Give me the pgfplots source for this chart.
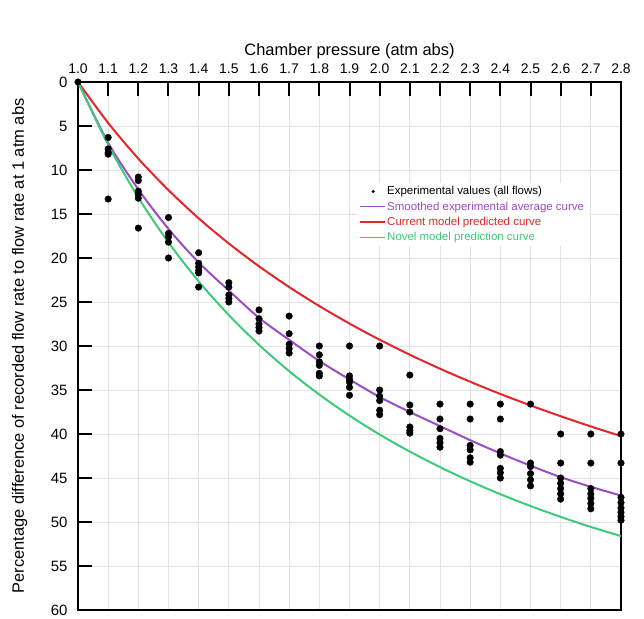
\documentclass[border=0pt]{standalone}
\usepackage{fontspec}
\setmainfont{Liberation Sans}
\usepackage{pgfplots}
\pgfplotsset{compat=1.18}
\definecolor{avgpurple}{HTML}{9A4DC4}
\definecolor{current}{HTML}{E3262B}
\definecolor{novel}{HTML}{3DCB7A}
\definecolor{gridgray}{HTML}{E2E2E2}

% experimental values, all flows
\pgfplotstableread{
p d
1.0 0.0
1.1 6.3
1.1 7.6
1.1 8.0
1.1 8.2
1.1 13.3
1.2 10.8
1.2 11.2
1.2 12.4
1.2 12.8
1.2 13.2
1.2 16.6
1.3 15.4
1.3 17.2
1.3 17.6
1.3 18.2
1.3 20.0
1.4 19.4
1.4 20.6
1.4 21.0
1.4 21.4
1.4 21.7
1.4 23.3
1.5 22.8
1.5 23.3
1.5 24.2
1.5 24.6
1.5 25.0
1.6 25.9
1.6 26.9
1.6 27.5
1.6 27.9
1.6 28.3
1.7 26.6
1.7 28.6
1.7 29.8
1.7 30.3
1.7 30.8
1.8 30.0
1.8 31.0
1.8 31.8
1.8 32.2
1.8 33.1
1.8 33.4
1.9 30.0
1.9 33.4
1.9 33.8
1.9 34.1
1.9 34.7
1.9 35.6
2.0 30.0
2.0 35.0
2.0 35.7
2.0 36.2
2.0 37.3
2.0 37.8
2.1 33.3
2.1 36.7
2.1 37.5
2.1 39.2
2.1 39.6
2.1 39.9
2.2 36.6
2.2 38.3
2.2 39.4
2.2 40.5
2.2 41.0
2.2 41.5
2.3 36.6
2.3 38.3
2.3 41.3
2.3 41.8
2.3 42.7
2.3 43.2
2.4 36.6
2.4 38.3
2.4 42.0
2.4 42.4
2.4 43.9
2.4 44.4
2.4 45.0
2.5 36.6
2.5 43.3
2.5 43.7
2.5 44.5
2.5 45.2
2.5 45.9
2.6 40.0
2.6 43.3
2.6 45.0
2.6 45.6
2.6 46.2
2.6 46.8
2.6 47.4
2.7 40.0
2.7 43.3
2.7 46.2
2.7 46.8
2.7 47.3
2.7 47.9
2.7 48.5
2.8 40.0
2.8 43.3
2.8 47.2
2.8 47.8
2.8 48.4
2.8 48.9
2.8 49.4
2.8 49.8
}\expdata

\begin{document}
\begin{tikzpicture}
\path[use as bounding box] (-78bp,-9bp) rectangle (566bp,610bp);
\begin{axis}[
  at={(0,0)}, anchor=south west,
  scale only axis, width=543bp, height=528bp,
  xmin=1, xmax=2.8, ymin=0, ymax=60, y dir=reverse,
  xtick={1.0,1.1,1.2,1.3,1.4,1.5,1.6,1.7,1.8,1.9,2.0,2.1,2.2,2.3,2.4,2.5,2.6,2.7,2.8},
  ytick={0,5,...,60},
  xtick pos=right, xticklabel pos=right, ytick pos=left, tick align=inside,
  major tick length=14bp,
  grid=major, grid style={gridgray, line width=1bp},
  axis line style={line width=2bp},
  tick style={line width=2bp, black},
  xticklabel style={font=\fontsize{14}{16}\selectfont, yshift=5bp,
    /pgf/number format/.cd, fixed, fixed zerofill, precision=1},
  yticklabel style={font=\fontsize{15}{17}\selectfont, xshift=-7bp},
  /pgf/number format/assume math mode=true,
  label style={font=\fontsize{16.5}{19}\selectfont},
  xlabel={Chamber pressure (atm abs)},
  xlabel style={at={(axis description cs:0.5,1)}, anchor=base, yshift=27bp},
  ylabel={Percentage difference of recorded flow rate to flow rate at 1 atm abs},
  ylabel style={at={(axis description cs:0,0.5)}, anchor=base, yshift=54bp},
  clip=false,
  legend style={at={(0.513,0.81)}, anchor=north west, draw=none, fill=white,
    font=\fontsize{11.5}{14}\selectfont, row sep=1.5bp},
  legend cell align=left,
  legend image code/.code={\draw[line width=1.4bp] (0cm,0cm) -- (0.85cm,0cm);},
]
\addplot[only marks, mark=*, mark size=3.3bp, black,
  legend image code/.code={\fill[black] (0.45cm,0cm) circle (1.3bp);}]
  table[x=p, y=d] {\expdata};
\addlegendentry{Experimental values (all flows)}
\addplot[avgpurple, line width=2bp, smooth] coordinates {
  (1.0,0) (1.1,6.9) (1.2,12.2) (1.3,16.7) (1.4,20.5) (1.5,23.7) (1.6,26.8)
  (1.7,29.3) (1.8,31.7) (1.9,33.8) (2.0,35.8) (2.1,37.5) (2.2,39.1) (2.3,40.7)
  (2.4,42.2) (2.5,43.6) (2.6,44.9) (2.7,46.0) (2.8,47.0)};
\addlegendentry{\textcolor{avgpurple}{Smoothed experimental average curve}}
\addplot[current, line width=2bp, smooth] coordinates {
  (1.0,0) (1.1,4.65) (1.2,8.71) (1.3,12.29) (1.4,15.49) (1.5,18.35) (1.6,20.94)
  (1.7,23.30) (1.8,25.46) (1.9,27.45) (2.0,29.29) (2.1,30.99) (2.2,32.58) (2.3,34.06)
  (2.4,35.45) (2.5,36.75) (2.6,37.98) (2.7,39.14) (2.8,40.24)};
\addlegendentry{\textcolor{current}{Current model predicted curve}}
\addplot[novel, line width=2bp, smooth] coordinates {
  (1.0,0) (1.1,7.13) (1.2,13.13) (1.3,18.24) (1.4,22.65) (1.5,26.49) (1.6,29.87)
  (1.7,32.86) (1.8,35.52) (1.9,37.91) (2.0,40.06) (2.1,42.00) (2.2,43.76) (2.3,45.37)
  (2.4,46.84) (2.5,48.18) (2.6,49.42) (2.7,50.56) (2.8,51.60)};
\addlegendentry{\textcolor{novel}{Novel model prediction curve}}
\end{axis}
\end{tikzpicture}
\end{document}
